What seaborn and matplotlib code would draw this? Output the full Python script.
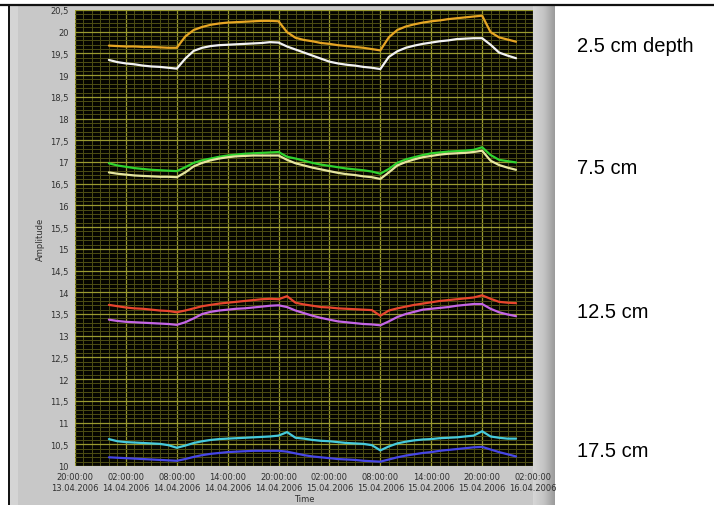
import numpy as np
import pandas as pd
import matplotlib
matplotlib.use("Agg")
import matplotlib.pyplot as plt
import matplotlib.dates as mdates
from matplotlib.ticker import FuncFormatter, MultipleLocator
from matplotlib.patches import Rectangle
import seaborn as sns

# Hourly samples, hours after 13.04.2006 20:00:00
hours = list(range(4, 53))
t0 = pd.Timestamp("2006-04-13 20:00:00")

d25_a = [19.68, 19.67, 19.66, 19.66, 19.65, 19.65, 19.64, 19.63, 19.63, 19.89,
         20.04, 20.11, 20.16, 20.19, 20.21, 20.22, 20.23, 20.24, 20.25, 20.25,
         20.24, 19.99, 19.86, 19.81, 19.78, 19.74, 19.72, 19.69, 19.67, 19.65,
         19.63, 19.60, 19.57, 19.87, 20.04, 20.12, 20.17, 20.21, 20.24, 20.26,
         20.29, 20.31, 20.33, 20.35, 20.37, 19.99, 19.87, 19.82, 19.77]
d25_b = [19.35, 19.30, 19.27, 19.25, 19.22, 19.20, 19.19, 19.17, 19.15, 19.38,
         19.56, 19.63, 19.67, 19.69, 19.70, 19.71, 19.72, 19.73, 19.74, 19.76,
         19.75, 19.66, 19.59, 19.52, 19.45, 19.38, 19.31, 19.27, 19.24, 19.22,
         19.19, 19.17, 19.14, 19.42, 19.55, 19.63, 19.68, 19.72, 19.75, 19.78,
         19.80, 19.83, 19.84, 19.85, 19.85, 19.70, 19.52, 19.45, 19.39]
d75_a = [16.97, 16.92, 16.89, 16.86, 16.84, 16.82, 16.81, 16.80, 16.79, 16.88,
         16.98, 17.04, 17.08, 17.12, 17.15, 17.17, 17.19, 17.20, 17.21, 17.22,
         17.23, 17.12, 17.08, 17.03, 16.98, 16.94, 16.91, 16.88, 16.85, 16.83,
         16.81, 16.78, 16.73, 16.84, 16.98, 17.06, 17.11, 17.16, 17.20, 17.22,
         17.24, 17.25, 17.26, 17.28, 17.34, 17.16, 17.05, 17.02, 16.99]
d75_b = [16.76, 16.73, 16.71, 16.69, 16.68, 16.67, 16.66, 16.66, 16.65, 16.76,
         16.90, 16.98, 17.04, 17.08, 17.11, 17.13, 17.14, 17.15, 17.15, 17.15,
         17.15, 17.05, 16.97, 16.92, 16.87, 16.83, 16.79, 16.75, 16.72, 16.70,
         16.67, 16.65, 16.61, 16.76, 16.92, 17.00, 17.06, 17.11, 17.14, 17.17,
         17.19, 17.20, 17.21, 17.23, 17.26, 17.03, 16.93, 16.87, 16.82]
d125_a = [13.71, 13.68, 13.65, 13.63, 13.62, 13.60, 13.58, 13.57, 13.54, 13.58,
          13.63, 13.68, 13.71, 13.74, 13.76, 13.78, 13.80, 13.82, 13.84, 13.85,
          13.84, 13.91, 13.76, 13.72, 13.69, 13.66, 13.65, 13.63, 13.62, 13.61,
          13.60, 13.59, 13.46, 13.58, 13.63, 13.67, 13.71, 13.74, 13.77, 13.80,
          13.82, 13.84, 13.86, 13.88, 13.93, 13.85, 13.78, 13.76, 13.75]
d125_b = [13.37, 13.34, 13.32, 13.31, 13.30, 13.29, 13.28, 13.27, 13.25, 13.31,
          13.40, 13.50, 13.55, 13.58, 13.60, 13.62, 13.63, 13.65, 13.67, 13.69,
          13.70, 13.66, 13.58, 13.52, 13.46, 13.41, 13.37, 13.33, 13.31, 13.29,
          13.27, 13.26, 13.24, 13.33, 13.43, 13.50, 13.55, 13.60, 13.62, 13.64,
          13.66, 13.69, 13.71, 13.73, 13.73, 13.62, 13.54, 13.49, 13.45]
d175_a = [10.62, 10.57, 10.55, 10.54, 10.53, 10.52, 10.51, 10.48, 10.42, 10.47,
          10.53, 10.57, 10.60, 10.62, 10.63, 10.64, 10.65, 10.66, 10.67, 10.68,
          10.70, 10.78, 10.65, 10.63, 10.60, 10.58, 10.57, 10.55, 10.53, 10.52,
          10.51, 10.48, 10.36, 10.45, 10.52, 10.56, 10.59, 10.61, 10.62, 10.64,
          10.65, 10.66, 10.68, 10.70, 10.80, 10.68, 10.65, 10.63, 10.63]
d175_b = [10.20, 10.19, 10.18, 10.17, 10.16, 10.15, 10.14, 10.13, 10.12, 10.16,
          10.21, 10.25, 10.28, 10.30, 10.32, 10.33, 10.34, 10.35, 10.35, 10.35,
          10.35, 10.33, 10.29, 10.25, 10.22, 10.20, 10.18, 10.16, 10.15, 10.14,
          10.12, 10.11, 10.10, 10.15, 10.20, 10.24, 10.27, 10.30, 10.32, 10.35,
          10.37, 10.39, 10.41, 10.43, 10.44, 10.38, 10.32, 10.27, 10.22]

series = {
    "d25_a": d25_a, "d25_b": d25_b,
    "d75_a": d75_a, "d75_b": d75_b,
    "d125_a": d125_a, "d125_b": d125_b,
    "d175_a": d175_a, "d175_b": d175_b,
}
colors = {
    "d25_a": "#e6a524", "d25_b": "#f2f2f2",
    "d75_a": "#2fd22f", "d75_b": "#e6e6a0",
    "d125_a": "#e8452e", "d125_b": "#c466e6",
    "d175_a": "#46cadc", "d175_b": "#4646e6",
}

depth_labels = ["2.5 cm depth", "7.5 cm", "12.5 cm", "17.5 cm"]
x_label = "Time"
y_label = "Amplitude"

times = [t0 + pd.Timedelta(hours=h) for h in hours]
df = pd.concat(
    [pd.DataFrame({"time": times, "value": v, "series": k}) for k, v in series.items()],
    ignore_index=True,
)

sns.set_style("white")
plt.rcParams["font.family"] = ["DejaVu Sans"]

W, H = 714, 506
fig = plt.figure(figsize=(W / 100, H / 100), dpi=100, facecolor="white")

# LabVIEW-style gray panel behind the graph
fig.add_artist(Rectangle((8 / W, 0), (533 - 8) / W, 1 - 5 / H, transform=fig.transFigure,
                         facecolor="#c8c8c8", edgecolor="none", zorder=-10))
fig.add_artist(Rectangle((10 / W, 0), 8 / W, 1 - 7 / H, transform=fig.transFigure,
                         facecolor="#d4d4d4", edgecolor="none", zorder=-9))
strip = fig.add_axes([533 / W, 0, 22 / W, 1 - 6 / H], zorder=-8)
grad = np.linspace(0, 1, 64)[None, :]
strip.imshow(grad, aspect="auto", cmap=matplotlib.colors.LinearSegmentedColormap.from_list(
    "panel", ["#d6d6d6", "#c4c4c4", "#9a9a9a"]), extent=[0, 1, 0, 1])
strip.axis("off")
# dark frame lines along the top and left edges
fig.add_artist(plt.Line2D([0, 1], [1 - 6 / H, 1 - 6 / H], transform=fig.transFigure,
                          color="#111111", lw=1.6, zorder=5))
fig.add_artist(plt.Line2D([8.5 / W, 8.5 / W], [0, 1 - 6 / H], transform=fig.transFigure,
                          color="#111111", lw=1.4, zorder=5))

ax = fig.add_axes([75 / W, 1 - 467 / H, (533 - 75) / W, (467 - 11) / H])
ax.set_facecolor("#050500")

sns.lineplot(data=df, x="time", y="value", hue="series", palette=colors,
             legend=False, linewidth=1.6, estimator=None, sort=False, ax=ax)

ax.set_xlim(t0, t0 + pd.Timedelta(hours=54))
ax.set_ylim(10, 20.5)

ax.xaxis.set_major_locator(mdates.HourLocator(byhour=[2, 8, 14, 20]))
ax.xaxis.set_minor_locator(mdates.HourLocator())
ax.xaxis.set_major_formatter(mdates.DateFormatter("%H:%M:%S\n%d.%m.%Y"))
ax.yaxis.set_major_locator(MultipleLocator(0.5))
ax.yaxis.set_minor_locator(MultipleLocator(0.1))
ax.yaxis.set_major_formatter(FuncFormatter(lambda v, p: f"{v:g}".replace(".", ",")))

ax.grid(which="minor", color="#4e4e14", lw=0.7)
ax.grid(which="major", color="#9a9a30", lw=0.9)
ax.set_axisbelow(True)
for sp in ax.spines.values():
    sp.set_visible(False)

ax.tick_params(which="major", direction="out", length=3, width=0.8, color="#404040",
               labelsize=6, labelcolor="#303030", pad=1.5)
ax.tick_params(which="minor", length=0)
ax.set_xlabel(x_label, fontsize=6, color="#303030", labelpad=2)
ax.set_ylabel(y_label, fontsize=6, color="#303030", labelpad=4)

label_y = [47, 168, 313, 452]
for txt, yp in zip(depth_labels, label_y):
    fig.text(577 / W, 1 - yp / H, txt, ha="left", va="center", fontsize=14.5,
             family=["Liberation Sans", "DejaVu Sans"], color="black")

fig.savefig("out.png", dpi=100, facecolor="white")
